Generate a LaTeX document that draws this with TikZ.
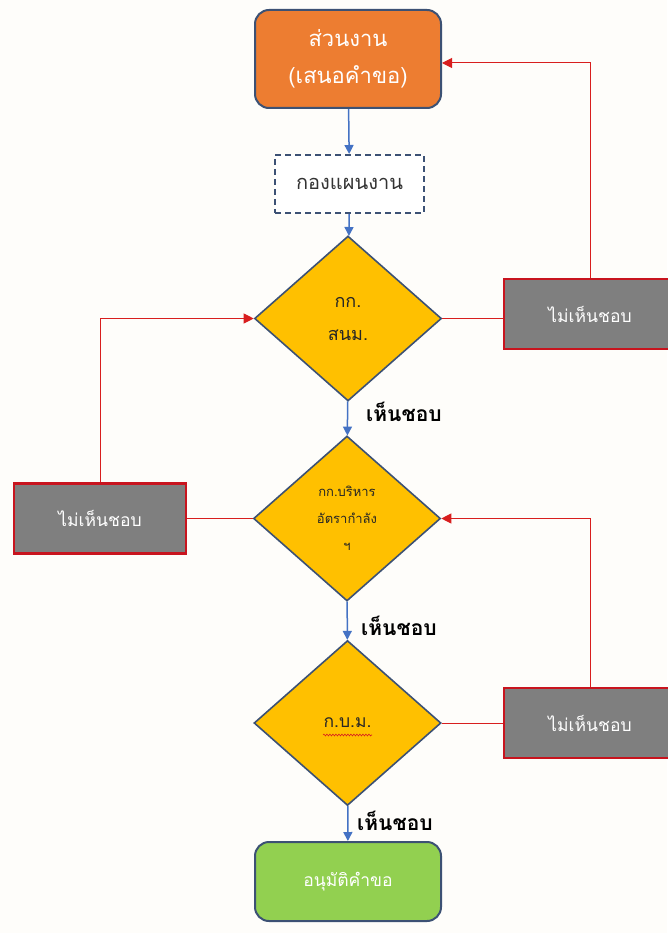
\documentclass[tikz,border=0pt]{standalone}
\usepackage{fontspec}
\newfontfamily\thai[Script=Thai]{Loma}
\usetikzlibrary{shapes.geometric,arrows.meta,decorations.pathmorphing}
\definecolor{bgc}{HTML}{FEFDFA}
\definecolor{orangec}{HTML}{ED7D31}
\definecolor{edgec}{HTML}{3C5174}
\definecolor{diamc}{HTML}{FFC000}
\definecolor{greyc}{HTML}{7F7F7F}
\definecolor{greenc}{HTML}{92D050}
\definecolor{bluec}{HTML}{4472C4}
\definecolor{redc}{HTML}{D81E1E}
\definecolor{redb}{HTML}{C8141E}
\tikzset{
  startbox/.style={draw=edgec, line width=2pt, fill=orangec, rounded corners=14pt,
    minimum width=186pt, minimum height=98pt, text=white, align=center,
    font=\thai\fontsize{22}{37}\selectfont},
  dashbox/.style={draw=edgec, line width=2pt, dash pattern=on 6pt off 4pt, fill=white,
    minimum width=149pt, minimum height=58pt, text=black!80, font=\thai\fontsize{20}{24}\selectfont},
  decision/.style={diamond, draw=edgec, line width=1.6pt, fill=diamc, inner sep=0pt,
    minimum width=187pt, minimum height=165pt, align=center, text=black!85},
  nobox/.style={draw=redb, line width=2.4pt, fill=greyc, minimum width=172pt,
    minimum height=70pt, text=white, font=\thai\fontsize{17.5}{20}\selectfont},
  endbox/.style={draw=edgec, line width=2pt, fill=greenc, rounded corners=14pt,
    minimum width=186pt, minimum height=79pt, text=white, font=\thai\fontsize{17.5}{20}\selectfont},
  lbl/.style={font=\thai\bfseries\fontsize{21}{24}\selectfont, text=black, anchor=west, inner sep=0pt},
  bluearrow/.style={draw=bluec, line width=1.5pt, -{Triangle[length=9pt,width=9pt]}},
  redline/.style={draw=redc, line width=1pt},
  redarrow/.style={draw=redc, line width=1pt, -{Triangle[length=10pt,width=10pt]}},
}
\begin{document}
\begin{tikzpicture}[x=1pt,y=-1pt]
\fill[bgc] (0,0) rectangle (667,933);
\useasboundingbox (0,0) rectangle (667,933);

\node[startbox] (src) at (348,59) {ส่วนงาน\\(เสนอคำขอ)};
\node[dashbox] (plan) at (349.5,184) {กองแผนงาน};
\node[decision, font=\thai\fontsize{18}{33}\selectfont] (d1) at (348,318.5) {กก.\\สนม.};
\node[decision, font=\thai\fontsize{13}{27}\selectfont] (d2) at (347,518.5) {กก.บริหาร\\อัตรากำลัง\\ฯ};
\node[decision, font=\thai\fontsize{17.5}{20}\selectfont] (d3) at (347.5,723) {ก.บ.ม.};
\node[endbox] (ok) at (348,881.5) {อนุมัติคำขอ};

\node[nobox] (r1) at (590,314) {ไม่เห็นชอบ};
\node[nobox] (l2) at (100,518.5) {ไม่เห็นชอบ};
\node[nobox] (r3) at (590,723) {ไม่เห็นชอบ};

\node[lbl] (y1) at (366,412) {เห็นชอบ};
\node[lbl] (y2) at (361,626) {เห็นชอบ};
\node[lbl] (y3) at (357,821) {เห็นชอบ};

\coordinate (wav1) at (323,735);
\coordinate (wav2) at (372,735);
\draw[redc, line width=0.6pt, decorate, decoration={snake, amplitude=0.9pt, segment length=3pt}] (wav1) -- (wav2);

\draw[bluearrow] (src) -- (plan);
\draw[bluearrow] (plan) -- (d1);
\draw[bluearrow] (d1) -- (d2);
\draw[bluearrow] (d2) -- (d3);
\draw[bluearrow] (d3) -- (ok);

\draw[redline] (d1.east) -- (d1.east -| r1.west);
\draw[redarrow] (r1.north) |- ([yshift=-4pt]src.east);
\draw[redline] (d2.west) -- (d2.west -| l2.east);
\draw[redarrow] (l2.north) |- (d1.west);
\draw[redline] (d3.east) -- (d3.east -| r3.west);
\draw[redarrow] (r3.north) |- (d2.east);
\end{tikzpicture}
\end{document}
